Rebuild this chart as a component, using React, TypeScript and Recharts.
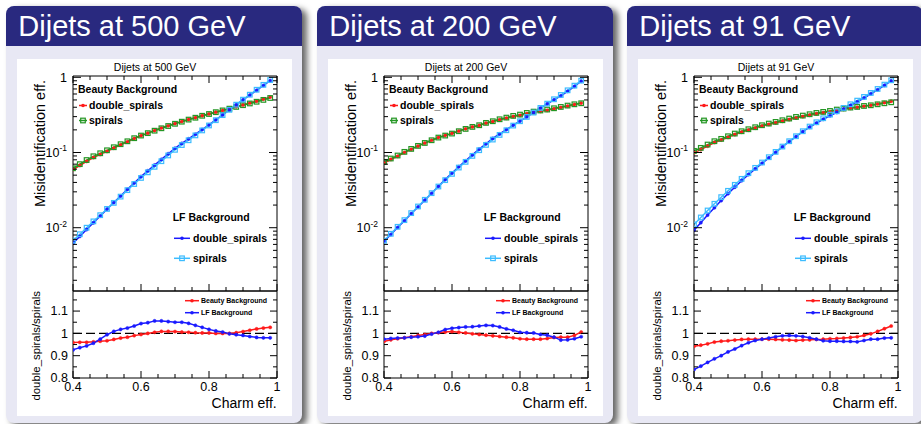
import React from "react";
import { LineChart, Line, XAxis, YAxis, ReferenceLine } from "recharts";

const FONT = '"Liberation Sans", Arial, Helvetica, sans-serif';
const NAVY = "#29297f";
const LAVENDER = "#e8e8f4";
const C_RED = "#ff1a1a";
const C_GREEN = "#249624";
const C_BLUE = "#1a1aff";
const C_LBLUE = "#3cbcff";

// ---------------- data ----------------
const charmEff = [0.40, 0.42, 0.44, 0.46, 0.48, 0.50, 0.52, 0.54, 0.56, 0.58, 0.60, 0.62, 0.64, 0.66, 0.68, 0.70, 0.72, 0.74, 0.76, 0.78, 0.80, 0.82, 0.84, 0.86, 0.88, 0.90, 0.92, 0.94, 0.96, 0.98];

const panelTitles = ["Dijets at 500 GeV", "Dijets at 200 GeV", "Dijets at 91 GeV"];

// 500 GeV
const beautyDouble500 = [0.0592, 0.0672, 0.0762, 0.0857, 0.0943, 0.1035, 0.1143, 0.1263, 0.1386, 0.1535, 0.1672, 0.181, 0.196, 0.2119, 0.227, 0.2429, 0.2585, 0.2754, 0.2909, 0.3086, 0.3257, 0.344, 0.363, 0.383, 0.4052, 0.4294, 0.4553, 0.4825, 0.513, 0.5453];
const beautySpirals500 = [0.0617, 0.07, 0.0794, 0.0891, 0.0977, 0.107, 0.1175, 0.129, 0.141, 0.155, 0.168, 0.181, 0.195, 0.21, 0.225, 0.241, 0.257, 0.274, 0.29, 0.308, 0.325, 0.344, 0.363, 0.383, 0.404, 0.426, 0.449, 0.473, 0.501, 0.531];
const lfDouble500 = [0.00624, 0.00767, 0.00944, 0.01161, 0.01429, 0.01766, 0.0216, 0.0264, 0.0324, 0.0394, 0.0479, 0.0571, 0.0681, 0.0809, 0.0962, 0.114, 0.132, 0.152, 0.175, 0.202, 0.233, 0.272, 0.316, 0.369, 0.43, 0.5, 0.579, 0.671, 0.778, 0.902];
const lfSpirals500 = [0.00674, 0.00819, 0.01, 0.01214, 0.01467, 0.01777, 0.0214, 0.0259, 0.0316, 0.0381, 0.0459, 0.0545, 0.0645, 0.0766, 0.0914, 0.1086, 0.1257, 0.1455, 0.1689, 0.1967, 0.2289, 0.269, 0.3141, 0.3697, 0.4326, 0.5045, 0.5872, 0.6833, 0.7939, 0.9204];
const ratioBeauty500 = [0.959, 0.96, 0.96, 0.962, 0.965, 0.967, 0.973, 0.979, 0.983, 0.99, 0.995, 1.0, 1.005, 1.009, 1.009, 1.008, 1.006, 1.005, 1.003, 1.002, 1.002, 1.0, 1.0, 1.0, 1.003, 1.008, 1.014, 1.02, 1.024, 1.027];
const ratioLF500 = [0.926, 0.936, 0.944, 0.956, 0.974, 0.994, 1.009, 1.018, 1.024, 1.033, 1.044, 1.048, 1.056, 1.056, 1.053, 1.05, 1.05, 1.045, 1.036, 1.027, 1.018, 1.011, 1.006, 0.998, 0.994, 0.991, 0.986, 0.982, 0.98, 0.98];

// 200 GeV
const beautyDouble200 = [0.0724, 0.0808, 0.089, 0.1, 0.11, 0.1214, 0.1333, 0.1456, 0.1585, 0.169, 0.18, 0.193, 0.2064, 0.2186, 0.2293, 0.2457, 0.2577, 0.2728, 0.2862, 0.3008, 0.3116, 0.3272, 0.3408, 0.3526, 0.3638, 0.3805, 0.3968, 0.4135, 0.4339, 0.4544];
const beautySpirals200 = [0.0751, 0.0832, 0.0912, 0.102, 0.1117, 0.1225, 0.134, 0.1456, 0.158, 0.168, 0.1786, 0.192, 0.206, 0.219, 0.2305, 0.2477, 0.2606, 0.2767, 0.2911, 0.3069, 0.3193, 0.3359, 0.3499, 0.362, 0.3724, 0.3875, 0.4037, 0.4207, 0.4378, 0.4517];
const lfDouble200 = [0.00654, 0.00811, 0.01006, 0.01236, 0.01536, 0.01886, 0.02322, 0.02871, 0.03548, 0.04363, 0.0532, 0.06474, 0.07728, 0.0929, 0.1108, 0.1308, 0.1538, 0.1764, 0.2017, 0.2313, 0.2619, 0.2981, 0.3403, 0.3897, 0.4431, 0.5018, 0.5648, 0.6519, 0.7559, 0.8895];
const lfSpirals200 = [0.00671, 0.0083, 0.01028, 0.01261, 0.01563, 0.01915, 0.0235, 0.0288, 0.0353, 0.0429, 0.052, 0.0631, 0.0751, 0.0902, 0.1073, 0.1263, 0.1486, 0.1714, 0.1977, 0.2281, 0.2606, 0.2972, 0.3396, 0.3917, 0.4467, 0.5105, 0.5823, 0.6714, 0.7745, 0.903];
const ratioBeauty200 = [0.964, 0.971, 0.976, 0.98, 0.985, 0.991, 0.995, 1.0, 1.003, 1.006, 1.008, 1.005, 1.002, 0.998, 0.995, 0.992, 0.989, 0.986, 0.983, 0.98, 0.976, 0.974, 0.974, 0.974, 0.977, 0.982, 0.983, 0.983, 0.991, 1.006];
const ratioLF200 = [0.974, 0.977, 0.979, 0.98, 0.983, 0.985, 0.988, 0.997, 1.005, 1.017, 1.023, 1.026, 1.029, 1.03, 1.033, 1.036, 1.035, 1.029, 1.02, 1.014, 1.005, 1.003, 1.002, 0.995, 0.992, 0.983, 0.97, 0.971, 0.976, 0.985];

// 91 GeV
const beautyDouble91 = [0.099, 0.1092, 0.1216, 0.1358, 0.1465, 0.1591, 0.1732, 0.1866, 0.1986, 0.2112, 0.2245, 0.2362, 0.2484, 0.2608, 0.2742, 0.2877, 0.3004, 0.3134, 0.3268, 0.3377, 0.3484, 0.3638, 0.3756, 0.3884, 0.3976, 0.4122, 0.4238, 0.4417, 0.4612, 0.481];
const beautySpirals91 = [0.1051, 0.1153, 0.1276, 0.1413, 0.1518, 0.1645, 0.1786, 0.1918, 0.2039, 0.2168, 0.2305, 0.2425, 0.2553, 0.2686, 0.2827, 0.2972, 0.3097, 0.3228, 0.3359, 0.3467, 0.357, 0.3724, 0.3837, 0.3955, 0.4037, 0.4159, 0.4246, 0.4378, 0.4517, 0.4656];
const lfDouble91 = [0.00926, 0.01167, 0.01474, 0.01843, 0.02294, 0.02837, 0.03456, 0.04219, 0.05087, 0.0605, 0.07169, 0.08478, 0.1004, 0.1187, 0.14, 0.1628, 0.1891, 0.2169, 0.2459, 0.2761, 0.3081, 0.3411, 0.3776, 0.4222, 0.4712, 0.5308, 0.6035, 0.6816, 0.7823, 0.8943];
const lfSpirals91 = [0.01105, 0.01368, 0.01694, 0.0208, 0.02549, 0.03094, 0.03716, 0.04465, 0.0531, 0.0625, 0.0736, 0.0866, 0.1019, 0.12, 0.1413, 0.1646, 0.1918, 0.2213, 0.2525, 0.2855, 0.3193, 0.3535, 0.3917, 0.438, 0.4898, 0.5483, 0.6196, 0.6998, 0.7991, 0.9125];
const ratioBeauty91 = [0.942, 0.947, 0.953, 0.961, 0.965, 0.967, 0.97, 0.973, 0.974, 0.974, 0.974, 0.974, 0.973, 0.971, 0.97, 0.968, 0.97, 0.971, 0.973, 0.974, 0.976, 0.977, 0.979, 0.982, 0.985, 0.991, 0.998, 1.009, 1.021, 1.033];
const ratioLF91 = [0.838, 0.853, 0.87, 0.886, 0.9, 0.917, 0.93, 0.945, 0.958, 0.968, 0.974, 0.979, 0.985, 0.989, 0.991, 0.989, 0.986, 0.98, 0.974, 0.967, 0.965, 0.965, 0.964, 0.964, 0.962, 0.968, 0.974, 0.974, 0.979, 0.98];

// ticks
const logTicks = [0.002, 0.003, 0.004, 0.005, 0.006, 0.007, 0.008, 0.009, 0.01, 0.02, 0.03, 0.04, 0.05, 0.06, 0.07, 0.08, 0.09, 0.1, 0.2, 0.3, 0.4, 0.5, 0.6, 0.7, 0.8, 0.9, 1];
const logLabelTicks = [0.01, 0.1, 1];
const ratioTicks = [0.8, 0.85, 0.9, 0.95, 1, 1.05, 1.1, 1.15];
const ratioLabelTicks = [0.8, 0.9, 1, 1.1];
const effTicks = [0.4, 0.45, 0.5, 0.55, 0.6, 0.65, 0.7, 0.75, 0.8, 0.85, 0.9, 0.95, 1.0];
const effLabelTicks = [0.4, 0.6, 0.8, 1.0];

const LOG_DOMAIN = [0.00144, 1.041];
const RATIO_DOMAIN = [0.8, 1.19];
const EFF_DOMAIN = [0.4, 1.0];

const panelOffsets = [0, 311, 621];

const panels = [
  { title: panelTitles[0], bd: beautyDouble500, bs: beautySpirals500, ld: lfDouble500, ls: lfSpirals500, rb: ratioBeauty500, rl: ratioLF500 },
  { title: panelTitles[1], bd: beautyDouble200, bs: beautySpirals200, ld: lfDouble200, ls: lfSpirals200, rb: ratioBeauty200, rl: ratioLF200 },
  { title: panelTitles[2], bd: beautyDouble91, bs: beautySpirals91, ld: lfDouble91, ls: lfSpirals91, rb: ratioBeauty91, rl: ratioLF91 },
];

// ---------------- helpers ----------------
const isIn = (arr: number[], v: number) => arr.some((a) => Math.abs(a - v) < 1e-9);

const fmtEff = (v: number) => (Math.abs(v - 1) < 1e-9 ? "1" : v.toFixed(1));
const fmtRatio = (v: number) => (Math.abs(v - 1) < 1e-9 ? "1" : v.toFixed(1));

// chart geometry (chart-local)
const CW = 275;
const PL = 56; // plot left
const PR = 260; // plot right
const TOP_H = 240;
const TOP_PT = 17;
const TOP_PB = 232;
const RAT_H = 120;
const RAT_PT = 10;
const RAT_PB = 97;

const bottomTick = (axisY: number, labels: boolean) => (p: any) => {
  const v = p.payload.value;
  const x = p.x;
  const major = isIn(effLabelTicks, v);
  const len = major ? 7 : 4;
  return (
    <g>
      <line x1={x} x2={x} y1={axisY} y2={axisY - len} stroke="#000" strokeWidth={1} />
      {labels && major && (
        <text x={x} y={axisY + 12.8} textAnchor="middle" fontSize={12.5} fontFamily={FONT} fill="#000">
          {fmtEff(v)}
        </text>
      )}
    </g>
  );
};

const topTick = (axisY: number) => (p: any) => {
  const v = p.payload.value;
  const x = p.x;
  const major = isIn(effLabelTicks, v);
  const len = major ? 7 : 4;
  return <line x1={x} x2={x} y1={axisY} y2={axisY + len} stroke="#000" strokeWidth={1} />;
};

const leftLogTick = (p: any) => {
  const v = p.payload.value;
  const y = p.y;
  const major = isIn(logLabelTicks, v);
  const len = major ? 8 : 4;
  const exp = Math.round(Math.log10(v));
  return (
    <g>
      <line x1={PL} x2={PL + len} y1={y} y2={y} stroke="#000" strokeWidth={1} />
      {major && (
        <text x={PL - 6} y={y + 4.4} textAnchor="end" fontSize={12.5} fontFamily={FONT} fill="#000">
          {exp === 0 ? (
            "1"
          ) : (
            <>
              <tspan>10</tspan>
              <tspan dy={-5.5} fontSize={8.5}>{`-${Math.abs(exp)}`}</tspan>
            </>
          )}
        </text>
      )}
    </g>
  );
};

const rightLogTick = (p: any) => {
  const v = p.payload.value;
  const y = p.y;
  const major = isIn(logLabelTicks, v);
  const len = major ? 8 : 4;
  return <line x1={PR} x2={PR - len} y1={y} y2={y} stroke="#000" strokeWidth={1} />;
};

const leftRatioTick = (p: any) => {
  const v = p.payload.value;
  const y = p.y;
  const major = isIn(ratioLabelTicks, v);
  const len = major ? 7 : 4;
  return (
    <g>
      <line x1={PL} x2={PL + len} y1={y} y2={y} stroke="#000" strokeWidth={1} />
      {major && (
        <text x={PL - 5} y={y + 4.4} textAnchor="end" fontSize={12.5} fontFamily={FONT} fill="#000">
          {fmtRatio(v)}
        </text>
      )}
    </g>
  );
};

const rightRatioTick = (p: any) => {
  const v = p.payload.value;
  const y = p.y;
  const major = isIn(ratioLabelTicks, v);
  const len = major ? 7 : 4;
  return <line x1={PR} x2={PR - len} y1={y} y2={y} stroke="#000" strokeWidth={1} />;
};

const SQ = 4.6;

const squareDot = (color: string) => (props: any) => {
  const { cx, cy, index } = props;
  if (cx == null || cy == null) return <g key={`sq-${index}`} />;
  return (
    <rect key={`sq-${index}`} x={cx - SQ / 2} y={cy - SQ / 2} width={SQ} height={SQ} fill="none" stroke={color} strokeWidth={1.2} />
  );
};

const roundDot = (color: string) => ({ r: 1.6, fill: color, stroke: color, strokeWidth: 0.5 });

const AXIS_LINE = { stroke: "#000", strokeWidth: 1 };

type Row = { x: number; bd: number; bs: number; ld: number; ls: number; rb: number; rl: number };

function TopChart({ rows }: { rows: Row[] }) {
  return (
    <LineChart width={CW} height={TOP_H} data={rows} margin={{ top: 0, right: 0, bottom: 0, left: 0 }}>
      <XAxis xAxisId="b" dataKey="x" type="number" domain={EFF_DOMAIN} allowDataOverflow ticks={effTicks} interval={0}
        height={TOP_H - TOP_PB} tickSize={0} tickLine={false} axisLine={AXIS_LINE} tick={bottomTick(TOP_PB, false)} />
      <XAxis xAxisId="t" orientation="top" dataKey="x" type="number" domain={EFF_DOMAIN} allowDataOverflow ticks={effTicks} interval={0}
        height={TOP_PT} tickSize={0} tickLine={false} axisLine={AXIS_LINE} tick={topTick(TOP_PT)} />
      <YAxis yAxisId="l" type="number" scale="log" domain={LOG_DOMAIN} allowDataOverflow ticks={logTicks} interval={0}
        width={PL} tickSize={0} tickLine={false} axisLine={AXIS_LINE} tick={leftLogTick} />
      <YAxis yAxisId="r" orientation="right" type="number" scale="log" domain={LOG_DOMAIN} allowDataOverflow ticks={logTicks} interval={0}
        width={CW - PR} tickSize={0} tickLine={false} axisLine={AXIS_LINE} tick={rightLogTick} />
      <Line xAxisId="b" yAxisId="l" dataKey="bd" stroke={C_RED} strokeWidth={1.5} dot={roundDot(C_RED)} activeDot={false} isAnimationActive={false} />
      <Line xAxisId="b" yAxisId="l" dataKey="bs" stroke={C_GREEN} strokeWidth={1.4} dot={squareDot(C_GREEN)} activeDot={false} isAnimationActive={false} />
      <Line xAxisId="b" yAxisId="l" dataKey="ld" stroke={C_BLUE} strokeWidth={1.5} dot={roundDot(C_BLUE)} activeDot={false} isAnimationActive={false} />
      <Line xAxisId="b" yAxisId="l" dataKey="ls" stroke={C_LBLUE} strokeWidth={1.4} dot={squareDot(C_LBLUE)} activeDot={false} isAnimationActive={false} />
    </LineChart>
  );
}

function RatioChart({ rows }: { rows: Row[] }) {
  return (
    <LineChart width={CW} height={RAT_H} data={rows} margin={{ top: 0, right: 0, bottom: 0, left: 0 }}>
      <XAxis xAxisId="b" dataKey="x" type="number" domain={EFF_DOMAIN} allowDataOverflow ticks={effTicks} interval={0}
        height={RAT_H - RAT_PB} tickSize={0} tickLine={false} axisLine={AXIS_LINE} tick={bottomTick(RAT_PB, true)} />
      <XAxis xAxisId="t" orientation="top" dataKey="x" type="number" domain={EFF_DOMAIN} allowDataOverflow
        height={RAT_PT} tickSize={0} tickLine={false} axisLine={AXIS_LINE} tick={false} />
      <YAxis yAxisId="l" type="number" domain={RATIO_DOMAIN} allowDataOverflow ticks={ratioTicks} interval={0}
        width={PL} tickSize={0} tickLine={false} axisLine={AXIS_LINE} tick={leftRatioTick} />
      <YAxis yAxisId="r" orientation="right" type="number" domain={RATIO_DOMAIN} allowDataOverflow ticks={ratioTicks} interval={0}
        width={CW - PR} tickSize={0} tickLine={false} axisLine={AXIS_LINE} tick={rightRatioTick} />
      <ReferenceLine xAxisId="b" yAxisId="l" y={1} stroke="#000" strokeWidth={1.2} strokeDasharray="9 4" />
      <Line xAxisId="b" yAxisId="l" dataKey="rb" stroke={C_RED} strokeWidth={1.5} dot={roundDot(C_RED)} activeDot={false} isAnimationActive={false} />
      <Line xAxisId="b" yAxisId="l" dataKey="rl" stroke={C_BLUE} strokeWidth={1.5} dot={roundDot(C_BLUE)} activeDot={false} isAnimationActive={false} />
    </LineChart>
  );
}

function LegendSample({ x1, x2, y, color, square }: { x1: number; x2: number; y: number; color: string; square?: boolean }) {
  const cx = (x1 + x2) / 2;
  return (
    <g>
      <line x1={x1} x2={x2} y1={y} y2={y} stroke={color} strokeWidth={1.5} />
      {square ? (
        <rect x={cx - SQ / 2} y={y - SQ / 2} width={SQ} height={SQ} fill="none" stroke={color} strokeWidth={1.2} />
      ) : (
        <circle cx={cx} cy={y} r={1.8} fill={color} />
      )}
    </g>
  );
}

function Overlay({ title }: { title: string }) {
  return (
    <svg width={310} height={424} style={{ position: "absolute", left: 0, top: 0, pointerEvents: "none" }} fontFamily={FONT}>
      <text x={18.3} y={35.7} fontSize={29} fill="#fff">{title}</text>
      <text x={155} y={70.5} fontSize={10.5} textAnchor="middle" fill="#000">{title}</text>
      <text transform="translate(45,80) rotate(-90)" fontSize={14.5} textAnchor="end" fill="#000">Misidentification eff.</text>
      <text transform="translate(39.5,291) rotate(-90)" fontSize={11.4} textAnchor="end" fill="#000">double_spirals/spirals</text>
      <text x={276.7} y={408} fontSize={14} textAnchor="end" fill="#000">Charm eff.</text>

      {/* beauty legend */}
      <text x={78} y={92.5} fontSize={10.5} fontWeight="bold" fill="#000">Beauty Background</text>
      <LegendSample x1={79} x2={87} y={105.5} color={C_RED} />
      <text x={89} y={109.3} fontSize={10.5} fontWeight="bold" fill="#000">double_spirals</text>
      <LegendSample x1={79} x2={87} y={120.5} color={C_GREEN} square />
      <text x={89} y={124} fontSize={10.5} fontWeight="bold" fill="#000">spirals</text>

      {/* LF legend */}
      <text x={172.7} y={221} fontSize={10.5} fontWeight="bold" fill="#000">LF Background</text>
      <LegendSample x1={174} x2={190} y={238.3} color={C_BLUE} />
      <text x={193} y={241.8} fontSize={10.5} fontWeight="bold" fill="#000">double_spirals</text>
      <LegendSample x1={174} x2={190} y={258.3} color={C_LBLUE} square />
      <text x={193} y={261.8} fontSize={10.5} fontWeight="bold" fill="#000">spirals</text>

      {/* ratio legend */}
      <LegendSample x1={185} x2={199} y={300.7} color={C_RED} />
      <text x={201} y={303.3} fontSize={7} fontWeight="bold" fill="#000">Beauty Background</text>
      <LegendSample x1={185} x2={199} y={312.7} color={C_BLUE} />
      <text x={201} y={315.3} fontSize={7} fontWeight="bold" fill="#000">LF Background</text>
    </svg>
  );
}

function Panel({ ox, p }: { ox: number; p: (typeof panels)[number] }) {
  const rows: Row[] = charmEff.map((x, i) => ({ x, bd: p.bd[i], bs: p.bs[i], ld: p.ld[i], ls: p.ls[i], rb: p.rb[i], rl: p.rl[i] }));
  return (
    <div style={{ position: "absolute", left: ox, top: 0, width: 310, height: 424 }}>
      <div style={{ position: "absolute", left: 6, top: 6, width: 296, height: 417, borderRadius: 8, background: LAVENDER, boxShadow: "5px 3px 6px rgba(0,0,0,0.6)" }} />
      <div style={{ position: "absolute", left: 6, top: 6, width: 296, height: 40, borderRadius: "8px 8px 0 0", background: NAVY }} />
      <div style={{ position: "absolute", left: 17, top: 59, width: 275, height: 357, background: "#fff" }} />
      <div style={{ position: "absolute", left: 17, top: 59 }}>
        <TopChart rows={rows} />
      </div>
      <div style={{ position: "absolute", left: 17, top: 281 }}>
        <RatioChart rows={rows} />
      </div>
      <Overlay title={p.title} />
    </div>
  );
}

export default function App() {
  return (
    <div style={{ position: "absolute", left: 0, top: 0, width: 921, height: 424, overflow: "hidden", background: "#fff", fontFamily: FONT }}>
      {panels.map((p, i) => (
        <Panel key={i} ox={panelOffsets[i]} p={p} />
      ))}
    </div>
  );
}
